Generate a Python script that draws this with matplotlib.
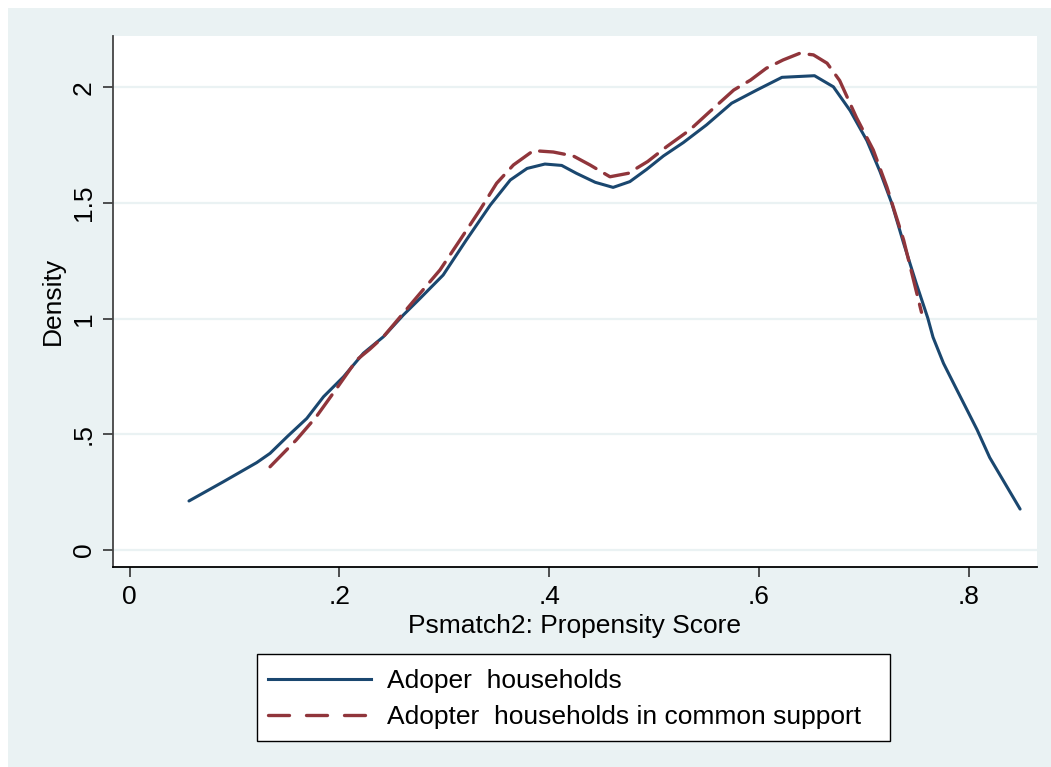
import matplotlib
matplotlib.use("Agg")
import matplotlib.pyplot as plt
from matplotlib.patches import Rectangle
from matplotlib.lines import Line2D

plt.rcParams['font.family'] = ['Liberation Sans', 'DejaVu Sans']

# Kernel density of the propensity score, all adopter households
adopter_x = [0.0567, 0.0894, 0.1213, 0.134, 0.151, 0.169, 0.185, 0.204, 0.223, 0.242,
             0.261, 0.277, 0.299, 0.321, 0.344, 0.363, 0.379, 0.396, 0.412, 0.426,
             0.444, 0.461, 0.477, 0.493, 0.509, 0.528, 0.550, 0.574, 0.598, 0.622,
             0.653, 0.671, 0.687, 0.703, 0.7155, 0.7266, 0.738, 0.750, 0.761, 0.766,
             0.776, 0.789, 0.808, 0.820, 0.833, 0.849]
adopter_y = [0.212, 0.295, 0.378, 0.418, 0.493, 0.569, 0.663, 0.749, 0.851, 0.922,
             1.016, 1.088, 1.189, 1.340, 1.492, 1.600, 1.650, 1.669, 1.663, 1.629,
             1.590, 1.568, 1.593, 1.646, 1.704, 1.762, 1.838, 1.932, 1.989, 2.044,
             2.051, 2.003, 1.900, 1.770, 1.636, 1.500, 1.326, 1.153, 1.003, 0.920,
             0.807, 0.690, 0.520, 0.400, 0.300, 0.177]

# Kernel density for adopter households on common support
support_x = [0.134, 0.159, 0.178, 0.1975, 0.2166, 0.229, 0.242, 0.261, 0.277, 0.296,
             0.315, 0.334, 0.350, 0.366, 0.385, 0.404, 0.423, 0.439, 0.458, 0.4755,
             0.494, 0.512, 0.534, 0.553, 0.576, 0.592, 0.607, 0.623, 0.639, 0.652,
             0.665, 0.677, 0.693, 0.709, 0.722, 0.738, 0.755]
support_y = [0.360, 0.476, 0.576, 0.699, 0.822, 0.868, 0.922, 1.024, 1.110, 1.211,
             1.340, 1.470, 1.586, 1.665, 1.727, 1.721, 1.704, 1.665, 1.614, 1.629,
             1.680, 1.744, 1.816, 1.895, 1.989, 2.032, 2.083, 2.119, 2.148, 2.141,
             2.105, 2.030, 1.870, 1.730, 1.570, 1.340, 1.028]

x_ticks = [0, 0.2, 0.4, 0.6, 0.8]
x_ticklabels = ["0", ".2", ".4", ".6", ".8"]
y_ticks = [0, 0.5, 1, 1.5, 2]
y_ticklabels = ["0", ".5", "1", "1.5", "2"]
series_labels = ["Adoper  households", "Adopter  households in common support"]

NAVY = "#1a476f"
MAROON = "#90353b"
PANEL = "#eaf2f3"
FS = 19
LW_SOLID = 2.2
LW_DASH = 2.4

W, H = 1051, 767
fig = plt.figure(figsize=(W / 100, H / 100), dpi=100, facecolor="white")

# light graph-region panel behind everything
fig.patches.append(Rectangle((8 / W, 0), 1 - 8 / W, 1 - 8 / H, transform=fig.transFigure,
                             facecolor=PANEL, edgecolor="none", zorder=-10))

ax = fig.add_axes([113 / W, 1 - 567 / H, 924 / W, 531 / H])
ax.set_zorder(1)
ax.set_facecolor("white")
ax.set_xlim(-0.01573, 0.86511)
ax.set_ylim(-0.07351, 2.2227)

for s in ("top", "right"):
    ax.spines[s].set_visible(False)
ax.spines["left"].set_color("#444444")
ax.spines["left"].set_linewidth(1.3)
ax.spines["bottom"].set_color("black")
ax.spines["bottom"].set_linewidth(1.3)

ax.set_yticks(y_ticks)
ax.set_yticklabels(y_ticklabels, rotation=90, va="center")
ax.set_xticks(x_ticks)
ax.set_xticklabels(x_ticklabels)
ax.tick_params(axis="both", direction="out", length=7.2, width=1.1, color="#222222",
               labelsize=FS, labelcolor="black")
ax.tick_params(axis="x", pad=6)
ax.tick_params(axis="y", pad=5)

ax.grid(axis="y", color=PANEL, linewidth=1.6, zorder=0)
ax.set_axisbelow(True)

ax.plot(adopter_x, adopter_y, color=NAVY, linewidth=LW_SOLID, solid_capstyle="round",
        solid_joinstyle="round", zorder=3)
ax.plot(support_x, support_y, color=MAROON, linewidth=LW_DASH, dashes=(7.5, 3.0),
        dash_capstyle="round", dash_joinstyle="round", zorder=4)

fig.text(575 / W, 1 - 626 / H, "Psmatch2: Propensity Score", ha="center", va="center",
         fontsize=FS)
fig.text(53 / W, 1 - 301 / H, "Density", ha="center", va="center", rotation=90,
         fontsize=FS)

# legend frame and entries
fig.patches.append(Rectangle((257 / W, 1 - 741 / H), 633 / W, 87 / H,
                             transform=fig.transFigure, facecolor="white",
                             edgecolor="black", linewidth=1.0, zorder=2))
handles = [Line2D([], [], color=NAVY, linewidth=LW_SOLID),
           Line2D([], [], color=MAROON, linewidth=LW_DASH, dashes=(6.3, 5.1),
                  dash_capstyle="round")]
leg = fig.legend(handles, series_labels, loc="upper left",
                 bbox_to_anchor=(268 / W, 1 - 669 / H), frameon=False, fontsize=FS,
                 handlelength=3.9, handletextpad=0.6, labelspacing=0.47, borderpad=0.0,
                 borderaxespad=0.0)
leg.set_zorder(3)

fig.savefig("out.png", dpi=100, facecolor="white")
